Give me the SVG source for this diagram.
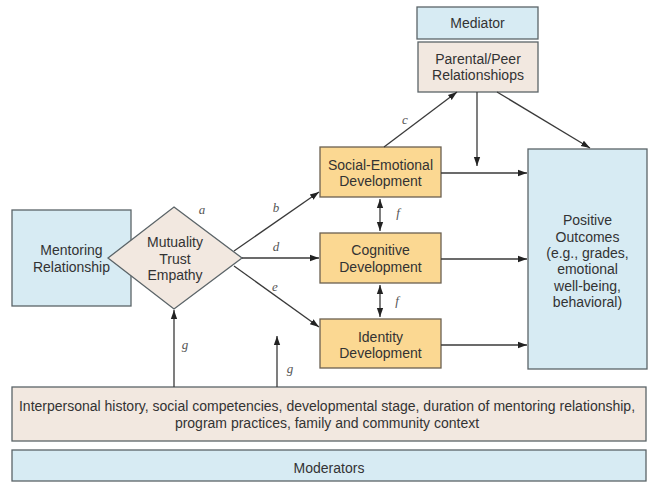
<svg xmlns="http://www.w3.org/2000/svg" width="662" height="485" viewBox="0 0 662 485">
<style>
.blue{fill:#d7ebf3;stroke:#5b6468;stroke-width:1.3}
.beige{fill:#f2e8e0;stroke:#5b6468;stroke-width:1.3}
.yel{fill:#fbd892;stroke:#6b6050;stroke-width:1.3}
.t{font-family:"Liberation Sans",Arial,sans-serif;font-size:14px;fill:#333;text-anchor:middle}
.lab{font-family:"Liberation Serif","Times New Roman",serif;font-style:italic;font-size:13px;fill:#555;text-anchor:middle}
.ln{stroke:#3a3a3a;stroke-width:1.3;fill:none}
</style>
<defs>
<marker id="ah" viewBox="0 0 10 10" refX="10" refY="5" markerWidth="9" markerHeight="9" markerUnits="userSpaceOnUse" orient="auto-start-reverse">
<path d="M0,1.5 L10,5 L0,8.5 Z" fill="#222"/>
</marker>
</defs>
<rect width="662" height="485" fill="#ffffff"/>
<g id="mediator"><rect class="blue" x="417" y="7" width="121" height="32"/><text class="t" x="477.5" y="28">Mediator</text></g>
<g id="parental"><rect class="beige" x="418" y="42" width="120" height="50"/><text class="t" x="478" y="64">Parental/Peer</text><text class="t" x="478" y="80">Relationshiops</text></g>
<g id="social"><rect class="yel" x="320" y="147" width="121" height="50"/><text class="t" x="380.5" y="170">Social-Emotional</text><text class="t" x="380.5" y="186">Development</text></g>
<g id="cognitive"><rect class="yel" x="320" y="233" width="121" height="50"/><text class="t" x="380.5" y="255">Cognitive</text><text class="t" x="380.5" y="272">Development</text></g>
<g id="identity"><rect class="yel" x="320" y="319" width="121" height="49"/><text class="t" x="380.5" y="342">Identity</text><text class="t" x="380.5" y="358">Development</text></g>
<g id="outcomes"><rect class="blue" x="528" y="149" width="119" height="220"/>
<text class="t" x="587.5" y="225">Positive</text><text class="t" x="587.5" y="242">Outcomes</text><text class="t" x="587.5" y="258">(e.g., grades,</text><text class="t" x="587.5" y="274">emotional</text><text class="t" x="587.5" y="291">well-being,</text><text class="t" x="587.5" y="307">behavioral)</text></g>
<g id="mentoring"><rect class="blue" x="12" y="210" width="119" height="96"/><text class="t" x="71.5" y="255">Mentoring</text><text class="t" x="71.5" y="272">Relationship</text></g>
<g id="mutuality"><polygon class="beige" points="174,207 242,258 174,309 108,258"/><text class="t" x="175" y="247">Mutuality</text><text class="t" x="175" y="264">Trust</text><text class="t" x="175" y="280">Empathy</text></g>
<g id="context"><rect class="beige" x="12" y="387" width="634" height="54"/><text class="t" x="327" y="411">Interpersonal history, social competencies, developmental stage, duration of mentoring relationship,</text><text class="t" x="327" y="428">program practices, family and community context</text></g>
<g id="moderators"><rect class="blue" x="12" y="450" width="634" height="31"/><text class="t" x="329" y="473">Moderators</text></g>
<g id="connectors">
<line class="ln" x1="234" y1="251" x2="319" y2="192" marker-end="url(#ah)"/>
<line class="ln" x1="242" y1="258" x2="319" y2="258" marker-end="url(#ah)"/>
<line class="ln" x1="234" y1="266" x2="319" y2="327" marker-end="url(#ah)"/>
<line class="ln" x1="384" y1="147" x2="457" y2="92" marker-end="url(#ah)"/>
<line class="ln" x1="477" y1="92" x2="477" y2="166" marker-end="url(#ah)"/>
<line class="ln" x1="497" y1="92" x2="590" y2="148" marker-end="url(#ah)"/>
<line class="ln" x1="441" y1="173" x2="527" y2="173" marker-end="url(#ah)"/>
<line class="ln" x1="441" y1="259" x2="527" y2="259" marker-end="url(#ah)"/>
<line class="ln" x1="441" y1="345" x2="527" y2="345" marker-end="url(#ah)"/>
<line class="ln" x1="380" y1="199" x2="380" y2="231" marker-start="url(#ah)" marker-end="url(#ah)"/>
<line class="ln" x1="380" y1="285" x2="380" y2="317" marker-start="url(#ah)" marker-end="url(#ah)"/>
<line class="ln" x1="174" y1="387" x2="174" y2="310" marker-end="url(#ah)"/>
<line class="ln" x1="277" y1="387" x2="277" y2="336" marker-end="url(#ah)"/>
<text class="lab" x="202" y="214">a</text>
<text class="lab" x="276" y="212">b</text>
<text class="lab" x="405" y="124">c</text>
<text class="lab" x="276" y="251">d</text>
<text class="lab" x="275" y="291">e</text>
<text class="lab" x="398" y="217">f</text>
<text class="lab" x="397" y="305">f</text>
<text class="lab" x="185" y="349">g</text>
<text class="lab" x="290" y="373">g</text>
</g>
</svg>
